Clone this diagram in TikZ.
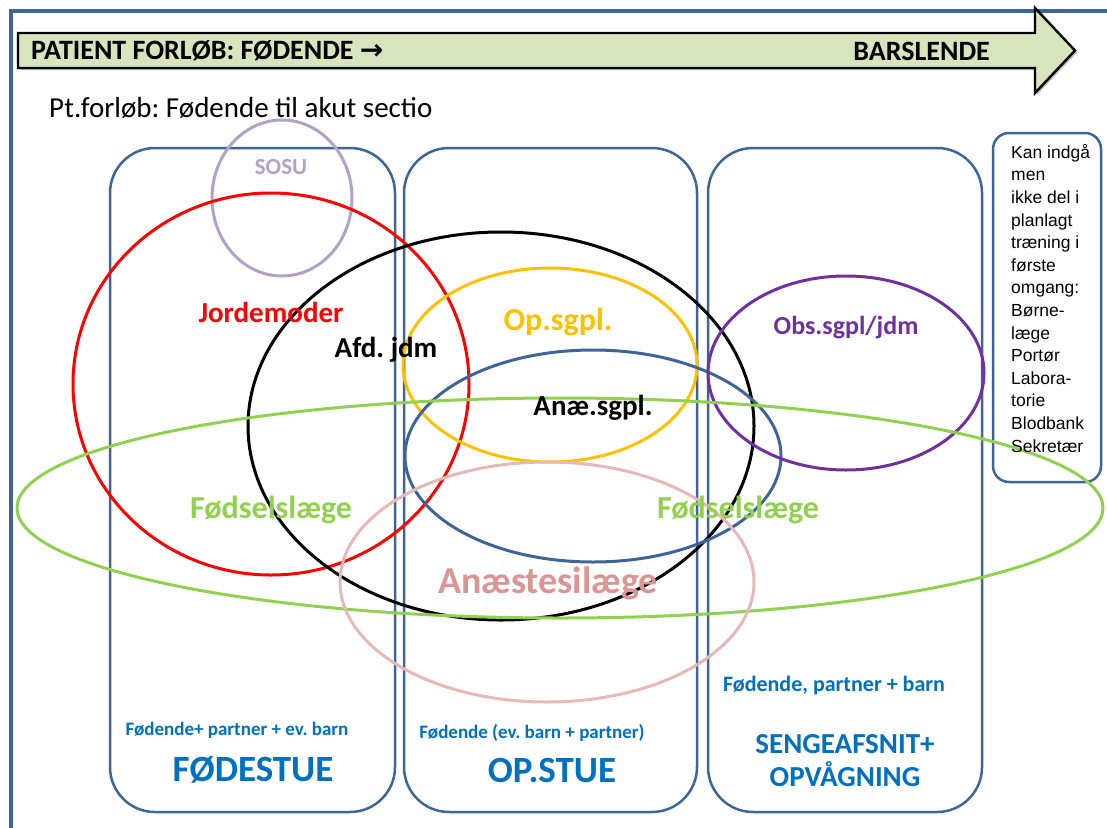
\documentclass[tikz,border=0pt]{standalone}
\usepackage{fontspec}
\setmainfont{Carlito}
\newfontfamily\arialf{Liberation Sans}
\newfontfamily\djv{DejaVu Sans}
\usetikzlibrary{shapes.geometric}
\definecolor{frameblue}{HTML}{3F6598}
\definecolor{arrowfill}{HTML}{D7E4BD}
\definecolor{sosucol}{HTML}{B3A2C7}
\definecolor{jordred}{HTML}{FF0000}
\definecolor{opyellow}{HTML}{FFC000}
\definecolor{obspurple}{HTML}{7030A0}
\definecolor{foedgreen}{HTML}{92D050}
\definecolor{anestpink}{HTML}{E6B9B8}
\definecolor{anesttext}{HTML}{D99694}
\definecolor{roomblue}{HTML}{0070C0}
\newcommand{\fsz}[1]{\fontsize{#1}{#1}\selectfont}
\frenchspacing
\begin{document}
\begin{tikzpicture}[x=1pt,y=-1pt,
  room/.style={draw=frameblue, line width=2.5pt, rounded corners=45pt, inner sep=0pt},
  ring/.style={ellipse, draw, line width=3pt, inner sep=0pt},
  lab/.style={font=\bfseries\fsz{29}},
  sub/.style={font=\bfseries\fsz{19}, text=roomblue},
  big/.style={font=\bfseries\fsz{37}, text=roomblue}]
\useasboundingbox (0,0) rectangle (1107,827);
\fill[white] (0,0) rectangle (1107,827);
% outer frame
\draw[frameblue, line width=4pt] (11,829) -- (11,11) -- (1109,11);
% rooms
\node[room, minimum width=285pt, minimum height=664pt] (b1) at (252.5,480) {};
\node[room, minimum width=293pt, minimum height=664pt] (b2) at (550.5,480) {};
\node[room, minimum width=274pt, minimum height=664pt] (b3) at (845,480) {};
\node[room, rounded corners=16pt, minimum width=108pt, minimum height=349pt] (b4) at (1047,307.5) {};
% header arrow
\fill[gray!50] (20,35) -- (1037,35) -- (1037,10) -- (1077,52.5) -- (1037,95) -- (1037,70) -- (20,70) -- cycle;
\draw[black, line width=2.4pt, fill=arrowfill, line join=miter]
  (18,33) -- (1035,33) -- (1035,8) -- (1075,50.5) -- (1035,93) -- (1035,68) -- (18,68) -- cycle;
\node[anchor=west, font=\bfseries\fsz{28}, inner sep=0pt] (h1) at (31,51) {PATIENT FORLØB: FØDENDE {\djv\bfseries\fsz{28}→}};
\node[anchor=east, font=\bfseries\fsz{28}, inner sep=0pt] (h2) at (990,51) {BARSLENDE};
\node[anchor=west, font=\fsz{29}, inner sep=0pt] (title) at (49,108) {Pt.forløb: Fødende til akut sectio};
% ellipses
\node[ring, draw=sosucol, minimum width=140pt, minimum height=156pt] (sosu) at (282,198) {};
\node[ring, draw=jordred, minimum width=396pt, minimum height=382pt] (jord) at (271,384) {};
\node[ring, draw=black, minimum width=506pt, minimum height=388pt] (afd) at (501,426) {};
\node[ring, draw=opyellow, minimum width=294pt, minimum height=194pt] (op) at (550,365) {};
\node[ring, draw=frameblue, minimum width=376pt, minimum height=212pt] (anae) at (593,456) {};
\node[ring, draw=obspurple, minimum width=276pt, minimum height=194pt] (obs) at (846,373) {};
\node[ring, draw=foedgreen, minimum width=1086pt, minimum height=220pt] (foed) at (560,508) {};
\node[ring, draw=anestpink, minimum width=414pt, minimum height=240pt] (anest) at (547,582) {};
% labels
\node[font=\bfseries\fsz{23}, text=sosucol] (lsosu) at (281,167) {SOSU};
\node[lab, text=jordred] (ljord) at (271,312) {Jordemoder};
\node[lab, text=black] (lafd) at (386,350) {Afd. jdm};
\node[lab, font=\bfseries\fsz{32}, text=opyellow] (lop) at (558,322) {Op.sgpl.};
\node[lab, text=black] (lanae) at (593,408) {Anæ.sgpl.};
\node[lab, font=\bfseries\fsz{26}, text=obspurple] (lobs) at (846,328) {Obs.sgpl/jdm};
\node[lab, font=\bfseries\fsz{32}, text=foedgreen] (lf1) at (271,510) {Fødselslæge};
\node[lab, font=\bfseries\fsz{32}, text=foedgreen] (lf2) at (738,510) {Fødselslæge};
\node[lab, font=\bfseries\fsz{38}, text=anesttext] (lanest) at (548,583) {Anæstesilæge};
% room texts
\node[sub] (s1) at (237,730) {Fødende+ partner + ev. barn};
\node[big] (r1) at (253,770) {FØDESTUE};
\node[sub] (s2) at (532,733) {Fødende (ev. barn + partner)};
\node[big] (r2) at (552,770) {OP.STUE};
\node[sub, font=\bfseries\fsz{22}] (s3) at (834,686) {Fødende, partner + barn};
\node[align=center, font=\bfseries\fontsize{29}{33}\selectfont, text=roomblue] (r3) at (845,761) {SENGEAFSNIT+\\OPVÅGNING};
\node[anchor=north west, align=left, inner sep=0pt, font=\arialf\fontsize{17.5}{22.6}\selectfont] (note) at (1011,144)
  {Kan indgå\\men\\ikke del i\\planlagt\\træning i\\første\\omgang:\\Børne-\\læge\\Portør\\Labora-\\torie\\Blodbank\\Sekretær};
\end{tikzpicture}
\end{document}
